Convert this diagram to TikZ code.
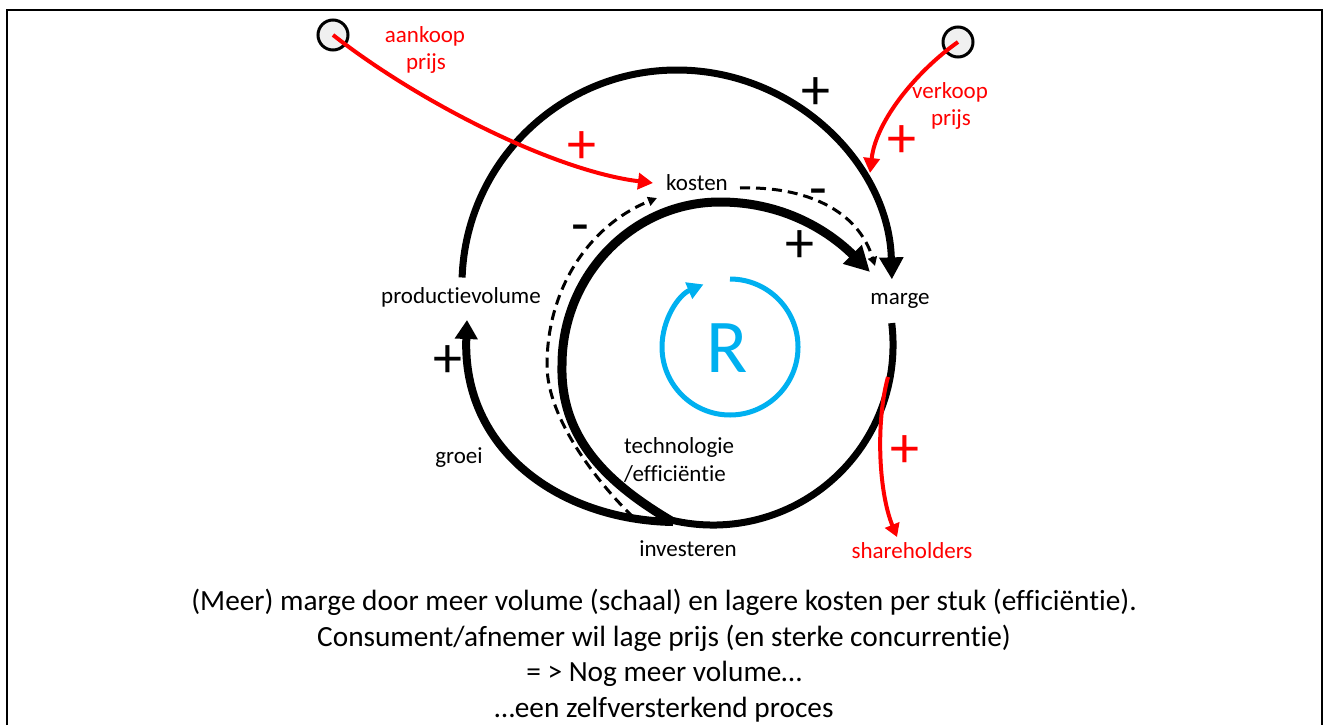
\documentclass[tikz,border=0pt]{standalone}
\usepackage{fontspec}
\setmainfont{Carlito}[Ligatures=NoCommon]
\usetikzlibrary{arrows.meta}
\definecolor{loopred}{RGB}{255,0,0}
\definecolor{loopblue}{RGB}{0,176,240}
\begin{document}
\begin{tikzpicture}[x=1pt,y=-1pt,
  lbl/.style={font=\fontsize{23}{28}\selectfont, inner sep=0pt, anchor=base},
  sgn/.style={font=\fontsize{58}{60}\selectfont, inner sep=0pt},
  note/.style={font=\fontsize{29.3}{35}\selectfont, inner sep=0pt, anchor=base},
  exo/.style={circle, draw, line width=3pt, fill=gray!12, minimum size=30pt, inner sep=0pt},
  redlink/.style={draw=loopred, line width=4pt, -{Triangle[length=15pt,width=16pt]}},
  dashlink/.style={line width=3pt, dash pattern=on 10pt off 6pt, -{Triangle[length=9pt,width=9pt]}}]
\useasboundingbox (0,0) rectangle (1324,725);

% frame
\draw[line width=2.5pt] (7,725) -- (7,10) -- (1322,10) -- (1322,725);

% variables
\node[lbl] (pv) at (461,303) {productievolume};
\node[lbl] (kosten) at (697,190) {kosten};
\node[lbl] (marge) at (900,304) {marge};
\node[lbl] (groei) at (459,463) {groei};
\node[lbl, anchor=base west] (tech1) at (624,453) {technologie};
\node[lbl, anchor=base west] (tech2) at (624,481) {/efficiëntie};
\node[lbl] (inv) at (688,556) {investeren};
\node[lbl, text=loopred] (share) at (912,558) {shareholders};
\node[lbl, text=loopred] (aank1) at (425,43) {aankoop};
\node[lbl, text=loopred] (aank2) at (426,70) {prijs};
\node[lbl, text=loopred] (verk1) at (950,98) {verkoop};
\node[lbl, text=loopred] (verk2) at (951,125) {prijs};

% exogenous sources
\node[exo] (srcA) at (333,35) {};
\node[exo] (srcV) at (958,42) {};

% connector end points
\coordinate (pvTop) at (462.1,277.5);
\coordinate (pvBot) at (467,320);
\coordinate (mOut) at (891.7,323.1);
\coordinate (jn) at (673,522);
\coordinate (d1s) at (633,517);
\coordinate (kIn) at (653,183);
\coordinate (kOut) at (740,188);
\coordinate (kDash) at (657,198);
\coordinate (mInA) at (870,272);
\coordinate (mInD) at (875,266);
\coordinate (mRed) at (870,173);
\coordinate (shOut) at (888,377);
\coordinate (shIn) at (897,537);
\coordinate (rTop) at (730,279);

% productievolume -> marge
\draw[line width=7pt, -{Triangle[length=22pt,width=23pt]}]
  (pvTop) arc[start angle=-178, end angle=-1.5, radius=215];
% marge -> investeren
\draw[line width=7pt] (mOut) arc[start angle=-7, end angle=103, radius=180];
% investeren -> productievolume (groei)
\draw[line width=8pt, -{Triangle[length=19pt,width=22pt]}]
  (jn) .. controls (560,520) and (462,450) .. (pvBot);
% investeren -> marge (technologie/efficientie)
\draw[line width=9pt, -{Triangle[length=25pt,width=25pt]}]
  (jn) .. controls (610,485) and (560,440) .. (562,365)
       .. controls (562,275) and (633,202) .. (720,202)
       .. controls (790,202) and (835,237) .. (mInA);
% investeren -> kosten (dashed)
\draw[dashlink]
  (d1s) .. controls (600,485) and (547,420) .. (547,365)
        .. controls (547,290) and (588,226) .. (kDash);
% kosten -> marge (dashed)
\draw[dashlink] (kOut) .. controls (805,186) and (858,210) .. (mInD);

% red influences
\draw[redlink] (srcA.center) .. controls (420,103) and (555,171) .. (kIn);
\draw[redlink] (srcV.center) .. controls (918,70) and (876,120) .. (mRed);
\draw[redlink, -{Triangle[length=13pt,width=15pt]}] (shOut) .. controls (876,420) and (878,490) .. (shIn);

% polarity signs
\node[sgn] (p1) at (816,94) {+};
\node[sgn] (p2) at (800,247) {+};
\node[sgn] (p3) at (448,362) {+};
\node[sgn, text=loopred] (p4) at (582,148) {+};
\node[sgn, text=loopred] (p5) at (902,142) {+};
\node[sgn, text=loopred] (p6) at (905,452) {+};
\node[sgn] (m1) at (580,234) {-};
\node[sgn] (m2) at (818,198) {-};

% reinforcing loop marker
\draw[loopblue, line width=5pt, -{Triangle[length=16pt,width=17pt]}]
  (rTop) arc[start angle=-90, end angle=247, radius=68];
\node[font=\fontsize{76}{80}\selectfont, text=loopblue, inner sep=0pt, anchor=base] (R) at (727,372) {R};

% explanation
\node[note] (b1) at (664,610) {(Meer) marge door meer volume (schaal) en lagere kosten per stuk (efficiëntie).};
\node[note] (b2) at (664,646) {Consument/afnemer wil lage prijs (en sterke concurrentie)};
\node[note] (b3) at (664,681) {= > Nog meer volume…};
\node[note] (b4) at (664,717) {…een zelfversterkend proces};
\end{tikzpicture}
\end{document}
